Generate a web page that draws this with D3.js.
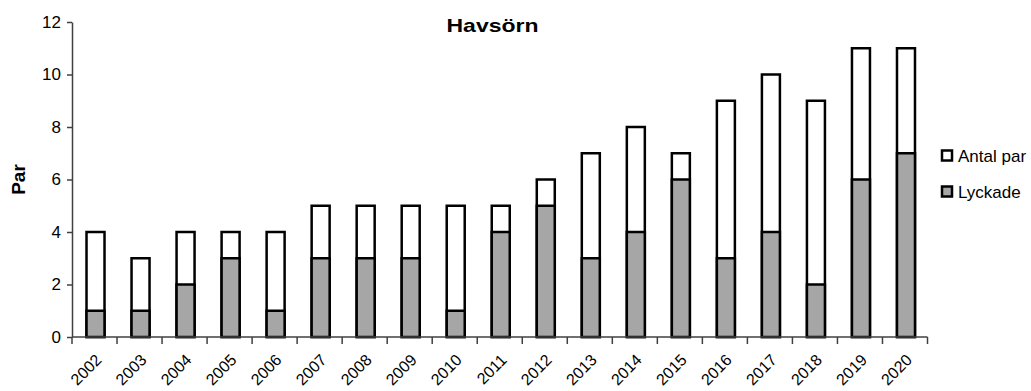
<!DOCTYPE html>
<html>
<head>
<meta charset="utf-8">
<script src="https://cdn.jsdelivr.net/npm/d3@7"></script>
<style>
  body { margin: 0; background: #fff; }
  svg text { font-family: "Liberation Sans", Arial, sans-serif; fill: #000; }
</style>
</head>
<body>
<svg id="chart" width="1031" height="391"></svg>
<script>
// Havsörn: number of pairs and successful pairs per year
const years = ["2002","2003","2004","2005","2006","2007","2008","2009","2010","2011",
               "2012","2013","2014","2015","2016","2017","2018","2019","2020"];
const antalPar = [4,3,4,4,4,5,5,5,5,5,6,7,8,7,9,10,9,11,11];
const lyckade  = [1,1,2,3,1,3,3,3,1,4,5,3,4,6,3,4,2,6,7];
const yTicks   = [0,2,4,6,8,10,12];

const svg = d3.select("#chart");
const plotLeft = 72, plotRight = 927.5, plotTop = 22, plotBottom = 337;

const x = d3.scaleBand().domain(years).range([plotLeft, plotRight]).paddingInner(0).paddingOuter(0);
const y = d3.scaleLinear().domain([0, 12]).range([plotBottom, plotTop]);

const barW = 18;
const gray = "#a6a6a6";
const axisColor = "#404040";

// bars: total pairs behind, successful pairs in front
const g = svg.append("g");
g.selectAll("rect.total").data(years).join("rect")
  .attr("class", "total")
  .attr("x", d => x(d) + x.bandwidth() / 2 - barW / 2 + 1)
  .attr("width", barW)
  .attr("y", (d, i) => y(antalPar[i]))
  .attr("height", (d, i) => y(0) - y(antalPar[i]))
  .attr("fill", "#fff").attr("stroke", "#000").attr("stroke-width", 2.5);

g.selectAll("rect.ok").data(years).join("rect")
  .attr("class", "ok")
  .attr("x", d => x(d) + x.bandwidth() / 2 - barW / 2 + 1)
  .attr("width", barW)
  .attr("y", (d, i) => y(lyckade[i]))
  .attr("height", (d, i) => y(0) - y(lyckade[i]))
  .attr("fill", gray).attr("stroke", "#000").attr("stroke-width", 2.5);

// y axis
const yAxis = svg.append("g")
  .attr("transform", `translate(${plotLeft},0)`)
  .call(d3.axisLeft(y).tickValues(yTicks).tickSize(5).tickPadding(6).tickSizeOuter(0));
yAxis.select(".domain").attr("stroke", axisColor).attr("stroke-width", 1.5);
yAxis.selectAll(".tick line").attr("stroke", axisColor).attr("stroke-width", 1.5);
yAxis.selectAll(".tick text").attr("font-size", 17).attr("font-family", "Liberation Sans, Arial, sans-serif").attr("fill", "#000");

// x axis: ticks at category boundaries
const xAxisG = svg.append("g").attr("transform", `translate(0,${plotBottom})`);
xAxisG.append("line")
  .attr("x1", plotLeft).attr("x2", plotRight).attr("y1", 0).attr("y2", 0)
  .attr("stroke", axisColor).attr("stroke-width", 1.5);
const bounds = years.map(d => x(d)).concat([x(years[years.length - 1]) + x.bandwidth()]);
xAxisG.selectAll("line.tk").data(bounds).join("line")
  .attr("class", "tk")
  .attr("x1", d => d).attr("x2", d => d).attr("y1", 0).attr("y2", 7)
  .attr("stroke", axisColor).attr("stroke-width", 1.5);
xAxisG.selectAll("text").data(years).join("text")
  .attr("transform", d => `translate(${x(d) + x.bandwidth() / 2 + 8},${24}) rotate(-45)`)
  .attr("text-anchor", "end")
  .attr("font-size", 16)
  .text(d => d);

// title
svg.append("text")
  .attr("x", 492.5).attr("y", 31.5)
  .attr("text-anchor", "middle")
  .attr("font-size", 19).attr("font-weight", "bold")
  .attr("textLength", 92).attr("lengthAdjust", "spacingAndGlyphs")
  .text("Havsörn");

// y axis title
svg.append("text")
  .attr("transform", `translate(25,${(plotTop + plotBottom) / 2}) rotate(-90)`)
  .attr("text-anchor", "middle")
  .attr("font-size", 19).attr("font-weight", "bold")
  .text("Par");

// legend
const legend = [
  { label: "Antal par", fill: "#fff", y: 156 },
  { label: "Lyckade", fill: gray, y: 192 }
];
const lg = svg.append("g");
lg.selectAll("rect").data(legend).join("rect")
  .attr("x", 942).attr("y", d => d.y - 5.5)
  .attr("width", 10).attr("height", 10)
  .attr("fill", d => d.fill).attr("stroke", "#000").attr("stroke-width", 2.5);
lg.selectAll("text").data(legend).join("text")
  .attr("x", 958).attr("y", d => d.y + 6)
  .attr("font-size", 17)
  .text(d => d.label);
</script>
</body>
</html>
